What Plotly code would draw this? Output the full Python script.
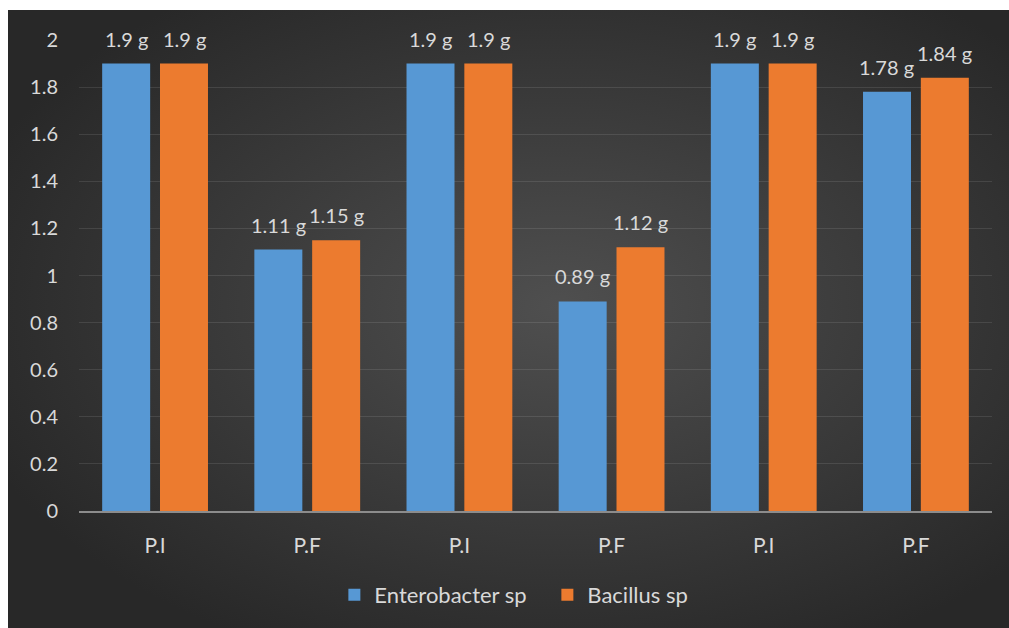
import base64
import plotly.graph_objects as go

categories = ["P.I", "P.F", "P.I ", "P.F ", "P.I  ", "P.F  "]
tick_labels = ["P.I", "P.F", "P.I", "P.F", "P.I", "P.F"]
enterobacter = [1.9, 1.11, 1.9, 0.89, 1.9, 1.78]
bacillus = [1.9, 1.15, 1.9, 1.12, 1.9, 1.84]
y_ticks = [0, 0.2, 0.4, 0.6, 0.8, 1, 1.2, 1.4, 1.6, 1.8, 2]

FONT = "Lato"
TXT = "#d9d9d9"
FS = 20

fig = go.Figure()
fig.add_trace(go.Bar(name="Enterobacter sp", x=categories, y=enterobacter,
                     marker=dict(color="#5798d4", line=dict(width=0))))
fig.add_trace(go.Bar(name="Bacillus sp", x=categories, y=bacillus,
                     marker=dict(color="#ec7b2f", line=dict(width=0))))

for vals, shift in ((enterobacter, -29), (bacillus, 29)):
    for c, v in zip(categories, vals):
        fig.add_annotation(x=c, y=v, xref="x", yref="y", text=f"{v:g} g", showarrow=False,
                           xshift=shift, yshift=11, yanchor="bottom",
                           font=dict(family=FONT, size=FS, color=TXT))

L, R, T, B = 79, 17, 40, 117
W, H = 1009, 628
pw, ph = W - L - R, H - T - B
x0 = (8 - L) / pw
x1 = (W - L) / pw
ytop = (H - B - 10) / ph
ybot = (H - B - H) / ph

svg = ("<svg xmlns='http://www.w3.org/2000/svg' width='1001' height='618' viewBox='0 0 1001 618' preserveAspectRatio='none'>"
       "<defs><radialGradient id='g' cx='55%' cy='48%' r='62%'>"
       "<stop offset='0' stop-color='#4f4f4f'/><stop offset='1' stop-color='#282828'/>"
       "</radialGradient></defs><rect width='1001' height='618' fill='url(#g)'/></svg>")
src = "data:image/svg+xml;base64," + base64.b64encode(svg.encode()).decode()

fig.add_layout_image(dict(source=src, xref="paper", yref="paper", x=x0, y=ytop,
                          sizex=x1 - x0, sizey=ytop - ybot, sizing="stretch",
                          xanchor="left", yanchor="top", layer="below"))

fig.update_layout(
    width=W, height=H,
    margin=dict(l=L, r=R, t=T, b=B),
    paper_bgcolor="white", plot_bgcolor="rgba(0,0,0,0)",
    barmode="group", bargap=0.24, bargroupgap=0.17,
    font=dict(family=FONT, size=FS, color=TXT),
    showlegend=True,
    legend=dict(orientation="h", x=0.513, xanchor="center", y=-0.178, yanchor="middle",
                font=dict(family=FONT, size=22, color=TXT), bgcolor="rgba(0,0,0,0)",
                itemwidth=30, traceorder="normal", entrywidth=168, entrywidthmode="pixels"),
)
fig.update_xaxes(tickvals=categories, ticktext=tick_labels, showgrid=False,
                 showline=True, linecolor="#8c8c8c", linewidth=2, ticks="",
                 tickfont=dict(family=FONT, size=21, color=TXT), ticklabelstandoff=15)
fig.update_yaxes(range=[0, 2], tickvals=y_ticks, ticktext=[f"{v:g}" for v in y_ticks],
                 showgrid=True, gridcolor="rgba(255,255,255,0.1)", gridwidth=1,
                 zeroline=False, showline=False, ticks="",
                 tickfont=dict(family=FONT, size=FS, color=TXT), ticklabelstandoff=20)

fig.write_html("out.html")
